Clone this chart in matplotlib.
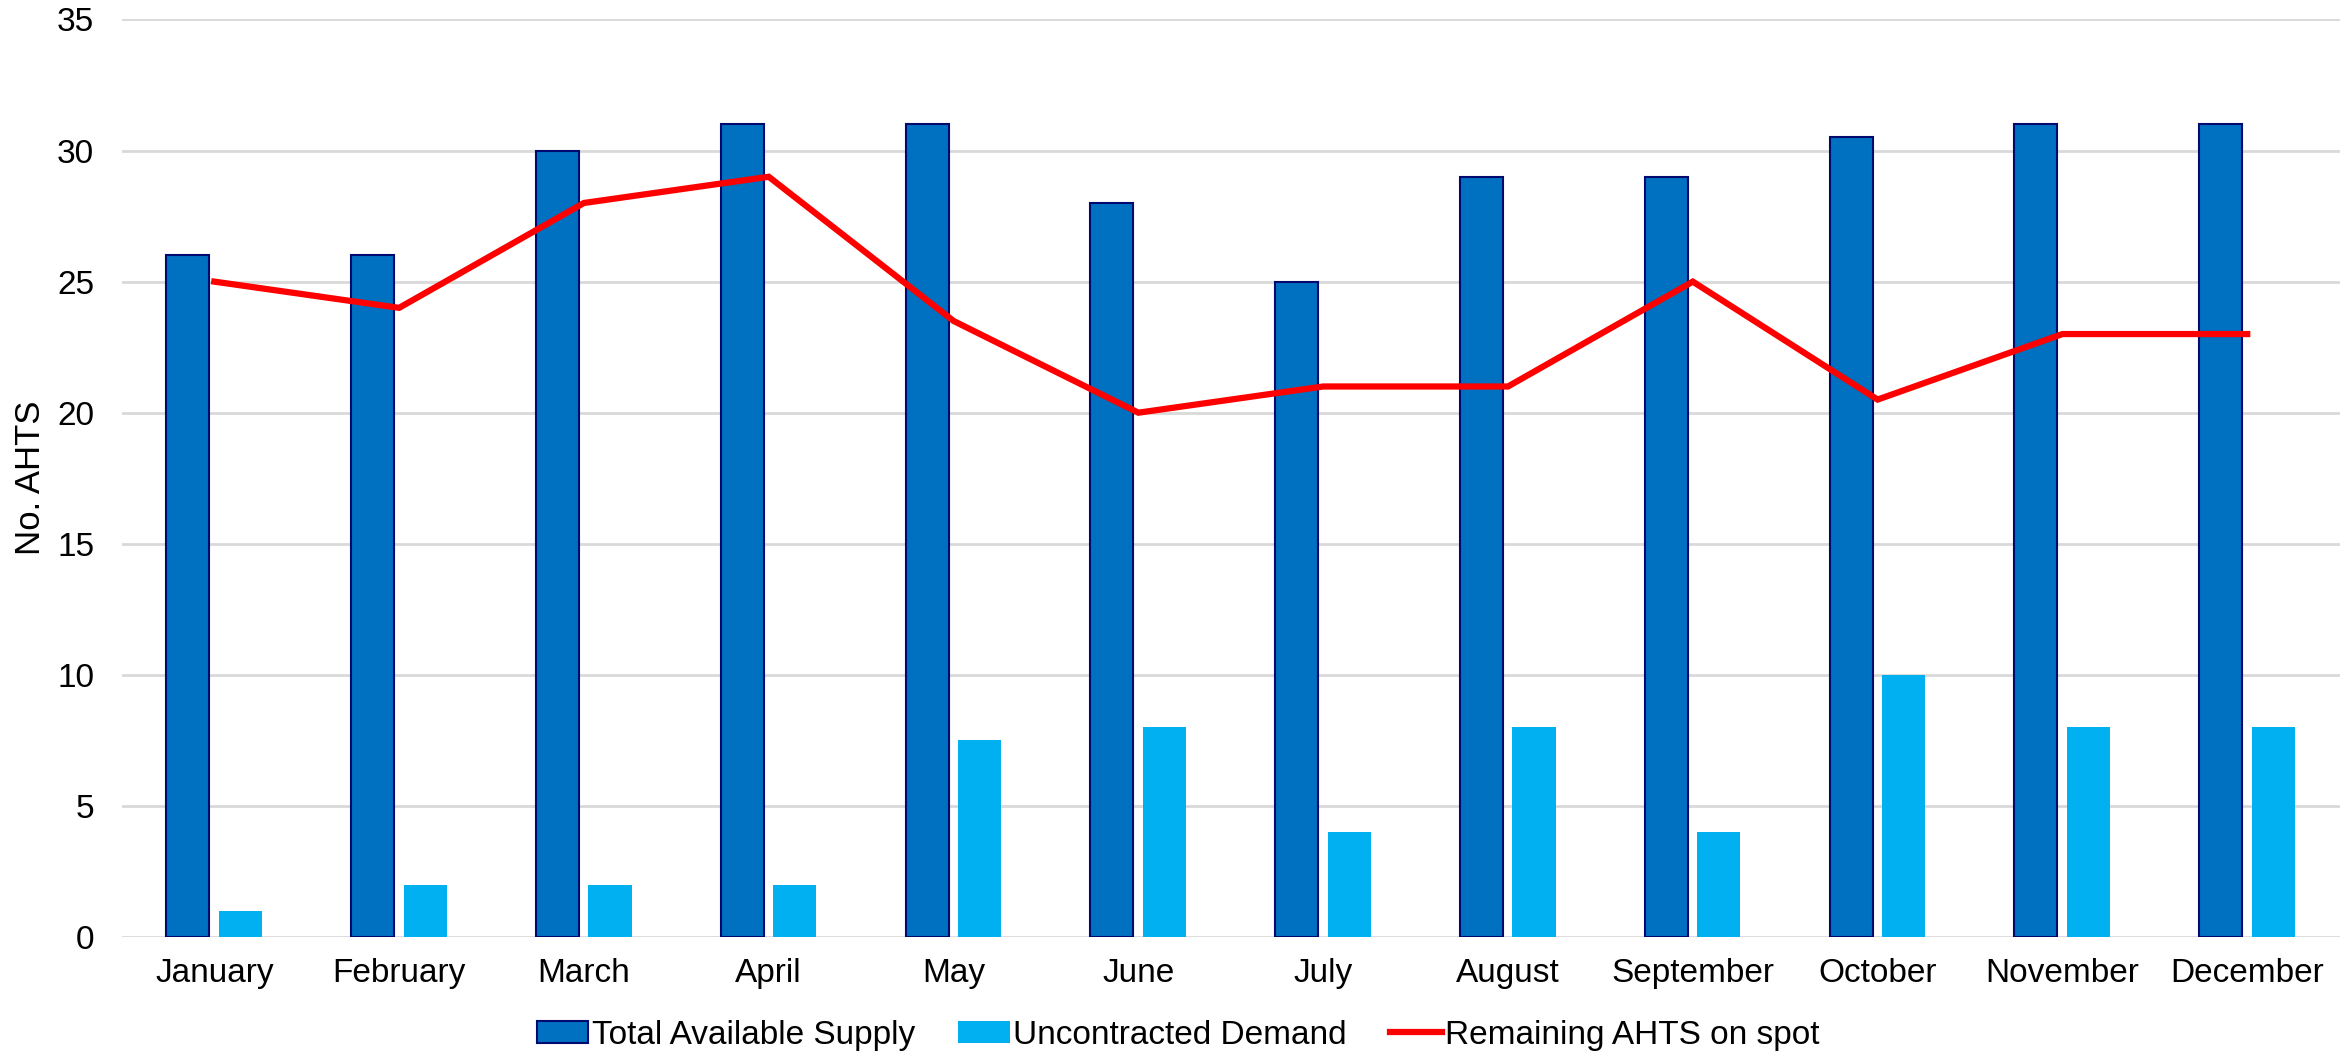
import matplotlib
matplotlib.use("Agg")
import matplotlib.pyplot as plt
import numpy as np

months = ["January", "February", "March", "April", "May", "June", "July",
          "August", "September", "October", "November", "December"]
supply = [26, 26, 30, 31, 31, 28, 25, 29, 29, 30.5, 31, 31]
demand = [1, 2, 2, 2, 7.5, 8, 4, 8, 4, 10, 8, 8]
remaining = [25, 24, 28, 29, 23.5, 20, 21, 21, 25, 20.5, 23, 23]

plt.rcParams["font.family"] = ["Liberation Sans", "DejaVu Sans"]

fig = plt.figure(figsize=(23.49, 10.52), dpi=100)
ax = fig.add_axes([0.0519, 0.1093, 0.9441, 0.8722])

x = np.arange(len(months))
w = 0.233
b1 = ax.bar(x - 0.143, supply, w, color="#0070c0", edgecolor="#000a6e", linewidth=1.5,
            label="Total Available Supply", zorder=3)
b2 = ax.bar(x + 0.141, demand, w, color="#00b0f0", label="Uncontracted Demand", zorder=3)
l1, = ax.plot(x, remaining, color="#ff0000", linewidth=4.5, label="Remaining AHTS on spot",
              zorder=4, solid_joinstyle="miter")

ax.set_xlim(-0.5, len(months) - 0.5)
ax.set_ylim(0, 35)
ax.set_yticks(range(0, 36, 5))
ax.set_xticks(x)
ax.set_xticklabels(months)
ax.tick_params(axis="both", length=0, labelsize=24)
ax.tick_params(axis="x", pad=15)
ax.tick_params(axis="y", pad=20)
ax.grid(axis="y", color="#d9d9d9", linewidth=2, zorder=0)
for s in ax.spines.values():
    s.set_visible(False)
ax.set_ylabel("No. AHTS", fontsize=25, labelpad=7)

fig.legend([b1, b2, l1], [b1.get_label(), b2.get_label(), l1.get_label()],
           loc="center", bbox_to_anchor=(0.5015, 0.016), ncol=3, frameon=False,
           fontsize=24, handlelength=1.55, handleheight=0.65, columnspacing=1.3,
           handletextpad=0.1, borderpad=0)

fig.savefig("out.png", dpi=100)
